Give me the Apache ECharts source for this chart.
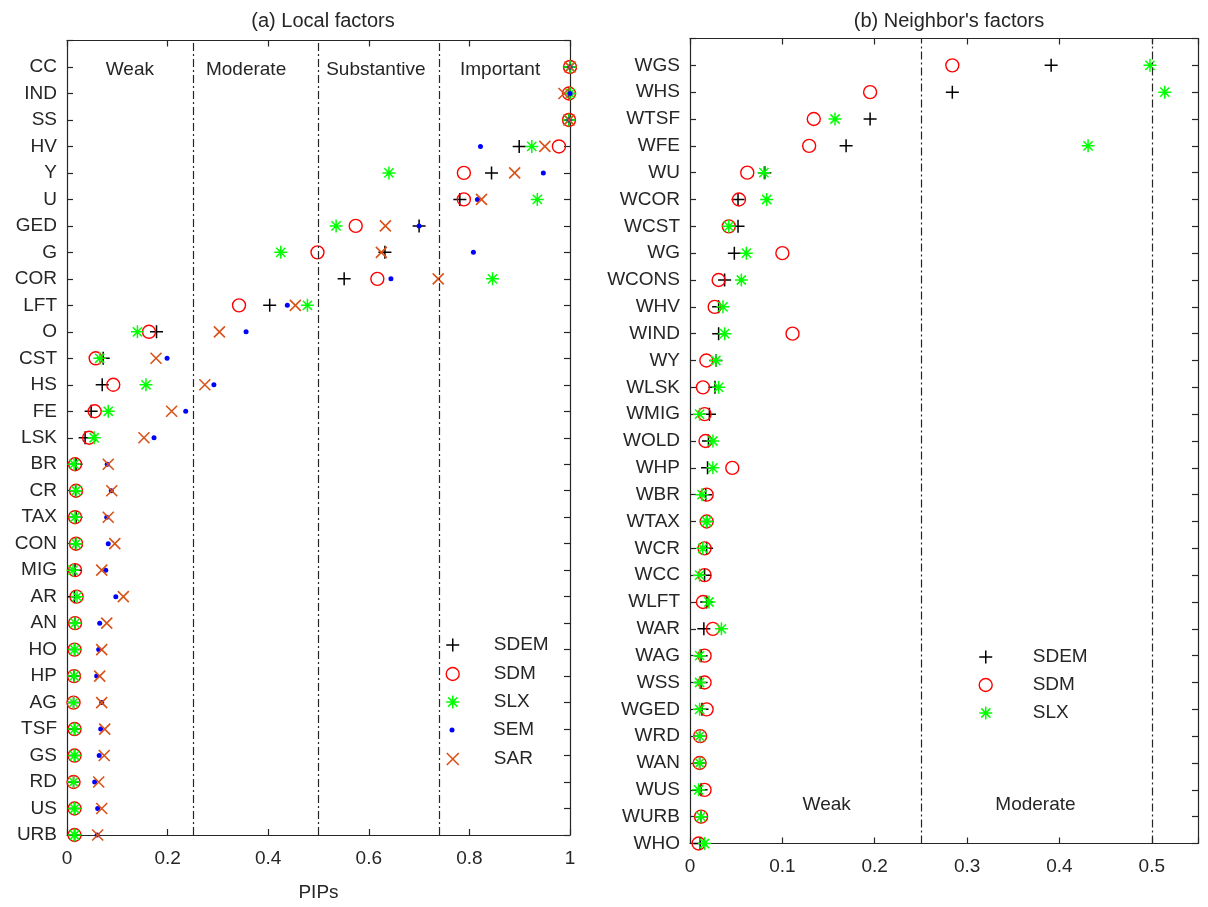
<!DOCTYPE html>
<html>
<head>
<meta charset="utf-8">
<script src="https://cdn.jsdelivr.net/npm/echarts@6/dist/echarts.min.js"></script>
<style>
html,body{margin:0;padding:0;background:#fff;}
#chart{width:1208px;height:907px;}
</style>
</head>
<body>
<div id="chart"></div>
<script>
// ---------- data ----------
const leftCats = ['CC','IND','SS','HV','Y','U','GED','G','COR','LFT','O','CST','HS','FE','LSK','BR','CR','TAX','CON','MIG','AR','AN','HO','HP','AG','TSF','GS','RD','US','URB'];
const leftSDEM = [1.0,0.998,0.998,0.899,0.844,0.781,0.700,0.632,0.551,0.403,0.178,0.072,0.070,0.048,0.036,0.018,0.017,0.018,0.017,0.016,0.015,0.016,0.015,0.014,0.013,0.015,0.015,0.013,0.015,0.015];
const leftSDM  = [1.0,0.998,0.998,0.978,0.789,0.789,0.574,0.498,0.617,0.342,0.163,0.057,0.092,0.055,0.044,0.016,0.018,0.016,0.018,0.016,0.019,0.016,0.015,0.014,0.013,0.015,0.015,0.013,0.015,0.015];
const leftSLX  = [1.0,1.0,0.998,0.924,0.640,0.935,0.535,0.425,0.846,0.478,0.140,0.065,0.157,0.082,0.054,0.014,0.018,0.016,0.018,0.012,0.020,0.016,0.015,0.014,0.013,0.015,0.015,0.013,0.015,0.015];
const leftSEM  = [1.0,1.0,0.998,0.822,0.947,0.816,0.700,0.808,0.644,0.438,0.356,0.199,0.292,0.236,0.173,0.080,0.088,0.079,0.082,0.077,0.097,0.065,0.063,0.059,0.069,0.067,0.064,0.055,0.061,0.060];
const leftSAR  = [1.0,0.988,0.998,0.950,0.890,0.824,0.633,0.625,0.738,0.454,0.303,0.177,0.274,0.208,0.153,0.082,0.089,0.082,0.095,0.069,0.112,0.079,0.069,0.065,0.069,0.075,0.074,0.063,0.069,0.061];

const rightCats = ['WGS','WHS','WTSF','WFE','WU','WCOR','WCST','WG','WCONS','WHV','WIND','WY','WLSK','WMIG','WOLD','WHP','WBR','WTAX','WCR','WCC','WLFT','WAR','WAG','WSS','WGED','WRD','WAN','WUS','WURB','WHO'];
const rightSDEM = [0.391,0.284,0.195,0.169,0.081,0.052,0.052,0.048,0.0375,0.031,0.031,0.028,0.027,0.021,0.020,0.019,0.017,0.018,0.018,0.0158,0.018,0.015,0.012,0.012,0.013,0.0104,0.0104,0.012,0.012,0.011];
const rightSDM  = [0.284,0.195,0.134,0.129,0.062,0.053,0.042,0.100,0.031,0.0267,0.111,0.0177,0.014,0.0158,0.0168,0.0458,0.018,0.018,0.0158,0.0158,0.014,0.0248,0.0158,0.0158,0.018,0.011,0.0104,0.0158,0.012,0.0093];
const rightSLX  = [0.498,0.514,0.157,0.431,0.080,0.083,0.042,0.061,0.0556,0.0357,0.0375,0.028,0.031,0.0104,0.0248,0.0248,0.013,0.018,0.0138,0.0104,0.0205,0.034,0.0104,0.0104,0.0104,0.0104,0.0104,0.0093,0.012,0.0158];

const leftThresholds = [0.25, 0.5, 0.74];
const rightThresholds = [0.25, 0.5];
const leftXTicks = {min: 0, max: 1, interval: 0.2};
const rightXTicks = {min: 0, max: 0.55, interval: 0.1, lastLabel: 0.5};

const leftZones = ['Weak','Moderate','Substantive','Important'];
const rightZones = ['Weak','Moderate'];
const leftLegendNames = ['SDEM','SDM','SLX','SEM','SAR'];
const rightLegendNames = ['SDEM','SDM','SLX'];

// ---------- styles / layout ----------
const TXT = '#262626';
const FONT = '"Liberation Sans", Arial, Helvetica, sans-serif';
const leftZonePos = [[0.125,29.88],[0.356,29.88],[0.614,29.9],[0.861,29.9]];
const rightZonePos = [[0.148,2.45],[0.374,2.45]];
const leftLegendRows = [645, 674, 702, 730, 759];
const rightLegendRows = [657, 685, 713];

const SYM = {
  SDEM: {symbol:'path://M0,-1L0,1M-1,0L1,0', size:13, lh:13, style:{color:'transparent', borderColor:'#000000', borderWidth:1.5, opacity:1}},
  SDM:  {symbol:'circle', size:13, lh:13, style:{color:'transparent', borderColor:'#ff0000', borderWidth:1.4, opacity:1}},
  SLX:  {symbol:'path://M0,-1L0,1M-1,0L1,0M-0.7071,-0.7071L0.7071,0.7071M-0.7071,0.7071L0.7071,-0.7071', size:13, lh:13, style:{color:'transparent', borderColor:'#00ff00', borderWidth:1.5, opacity:1}},
  SEM:  {symbol:'circle', size:5, lh:5, style:{color:'#0000ff', borderWidth:0, opacity:1}},
  SAR:  {symbol:'path://M-1,-1L1,1M-1,1L1,-1', size:11, lh:12, style:{color:'transparent', borderColor:'#d95319', borderWidth:1.6, opacity:1}}
};

function toPts(vals){ return vals.map((v,i)=>[v, vals.length - i]); }

function mkSeries(name, vals, gi){
  const s = SYM[name];
  return {
    name: name, type:'scatter', xAxisIndex: gi*2, yAxisIndex: gi*2,
    data: toPts(vals), symbol: s.symbol, symbolSize: s.size,
    itemStyle: s.style, silent:true, emphasis:{disabled:true}, animation:false
  };
}

function thrSeries(vals, gi){
  return {
    type:'scatter', xAxisIndex: gi*2, yAxisIndex: gi*2, data: [], silent:true, animation:false,
    markLine: {
      silent:true, symbol:['none','none'], animation:false,
      label:{show:false},
      lineStyle:{color:'#262626', width:1.2, type:[8,3,2,3], opacity:1},
      data: vals.map(v=>({xAxis:v}))
    }
  };
}

function zoneSeries(names, pos, gi){
  return {
    type:'scatter', xAxisIndex: gi*2, yAxisIndex: gi*2, silent:true, animation:false,
    symbolSize: 0, itemStyle:{opacity:1},
    data: names.map((n,i)=>({name:n, value:pos[i]})),
    label:{show:true, position:'inside', formatter:p=>p.name, color:TXT, opacity:1, fontSize:19, fontFamily:FONT},
    emphasis:{disabled:true}
  };
}

function xAx(gi, t, pos, name){
  const o = {
    type:'value', gridIndex: gi, position: pos, min:t.min, max:t.max, interval:t.interval,
    axisLine:{show:true, onZero:false, lineStyle:{color:TXT, width:1.2}},
    axisTick:{show:true, inside:true, length:6, lineStyle:{color:TXT, width:1.2}},
    splitLine:{show:false},
    axisLabel:{show: pos==='bottom', color:TXT, fontSize:19, fontFamily:FONT, margin:14,
      formatter: v => (t.lastLabel !== undefined && v > t.lastLabel + 1e-9) ? '' : String(+v.toFixed(2))}
  };
  if (name) { o.name = name; o.nameLocation='middle'; o.nameGap=48; o.nameTextStyle={color:TXT, fontSize:19, fontFamily:FONT}; }
  return o;
}
function yAx(gi, cats, pos){
  const n = cats.length;
  return {
    type:'value', gridIndex: gi, position: pos, min:1, max:n+1, interval:1,
    axisLine:{show:true, onZero:false, lineStyle:{color:TXT, width:1.2}},
    axisTick:{show:true, inside:true, length:6, lineStyle:{color:TXT, width:1.2}},
    splitLine:{show:false},
    axisLabel:{show: pos==='left', color:TXT, fontSize:19, fontFamily:FONT, margin:10,
      formatter: v => (v>=1 && v<=n) ? cats[n - v] : ''}
  };
}

// one legend component per entry so each row can be placed exactly
function mkLegends(names, rows, iconX, textX){
  return names.map((n,i)=>{
    const s = SYM[n];
    const boxH = 20;
    return {
      left: iconX - s.lh/2, top: rows[i] - boxH/2, orient:'vertical',
      itemWidth: s.lh, itemHeight: s.lh, selectedMode:false, padding:0,
      textStyle:{color:TXT, fontSize:19, fontFamily:FONT, lineHeight:boxH, padding:[0,0,0,textX - (iconX + s.lh/2) - 5]},
      data:[{name:n, icon:s.symbol, itemStyle:s.style}]
    };
  });
}

const option = {
  backgroundColor:'#ffffff',
  animation:false,
  title:[
    {text:'(a) Local factors', left:318, top:6, textAlign:'center', textStyle:{color:TXT, fontSize:20, fontWeight:'normal', fontFamily:FONT}},
    {text:"(b) Neighbor's factors", left:944, top:6, textAlign:'center', textStyle:{color:TXT, fontSize:20, fontWeight:'normal', fontFamily:FONT}}
  ],
  grid:[
    {left:67, top:40.5, width:503, height:796},
    {left:690, top:38.5, width:508, height:805}
  ],
  xAxis:[ xAx(0,leftXTicks,'bottom','PIPs'), xAx(0,leftXTicks,'top'), xAx(1,rightXTicks,'bottom'), xAx(1,rightXTicks,'top') ],
  yAxis:[ yAx(0,leftCats,'left'), yAx(0,leftCats,'right'), yAx(1,rightCats,'left'), yAx(1,rightCats,'right') ],
  legend: mkLegends(leftLegendNames, leftLegendRows, 452, 493).concat(mkLegends(rightLegendNames, rightLegendRows, 985, 1032)),
  series:[
    thrSeries(leftThresholds,0),
    thrSeries(rightThresholds,1),
    zoneSeries(leftZones,leftZonePos,0),
    zoneSeries(rightZones,rightZonePos,1),
    mkSeries('SDEM',leftSDEM,0),
    mkSeries('SDM',leftSDM,0),
    mkSeries('SLX',leftSLX,0),
    mkSeries('SEM',leftSEM,0),
    mkSeries('SAR',leftSAR,0),
    mkSeries('SDEM',rightSDEM,1),
    mkSeries('SDM',rightSDM,1),
    mkSeries('SLX',rightSLX,1)
  ]
};
const chart = echarts.init(document.getElementById('chart'), null, {renderer:'canvas'});
chart.setOption(option);
</script>
</body>
</html>
